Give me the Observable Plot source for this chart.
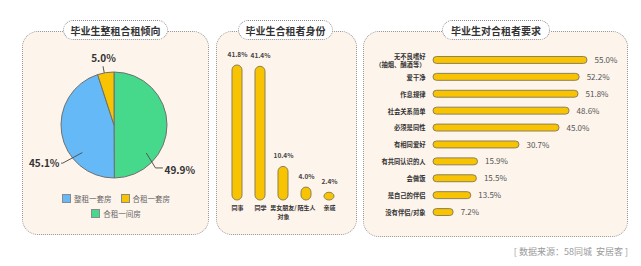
<!DOCTYPE html>
<html>
<head>
<meta charset="utf-8">
<script src="https://cdn.jsdelivr.net/npm/d3@7"></script>
<script src="https://cdn.jsdelivr.net/npm/@observablehq/plot@0.6"></script>
<style>
  html, body { margin: 0; padding: 0; background: #ffffff; }
  body { width: 641px; height: 266px; position: relative; overflow: hidden;
         font-family: "Noto Sans CJK SC", "Noto Sans", sans-serif; }
  .panel { position: absolute; background: #fdf4ec; border: 1px dotted #9a9a9a; border-radius: 16px; box-sizing: border-box; }
  .pill { position: absolute; height: 20px; background: #ffffff; border: 1px dotted #8a8a8a; border-radius: 10px;
          box-sizing: border-box; display: flex; align-items: center; justify-content: center;
          font-size: 10px; font-weight: 700; color: #333; white-space: nowrap; }
  .legend { position: absolute; display: flex; flex-wrap: wrap; justify-content: center; row-gap: 5px; column-gap: 9px; }
  .legend .item { display: flex; align-items: center; font-size: 7.5px; color: #666; height: 10px; }
  .legend .sw { width: 9px; height: 9px; box-sizing: border-box; border: 1px solid #8a8a8a; margin-right: 3px; }
  .source { position: absolute; right: 13px; top: 245px; font-size: 9px; color: #9a9a9a; white-space: pre; }
</style>
</head>
<body>
<script>
// ---------- data ----------
const titles = ["毕业生整租合租倾向", "毕业生合租者身份", "毕业生对合租者要求"];

const pieCategories = ["整租一套房", "合租一套房", "合租一间房"];
const pieValues = [45.1, 5.0, 49.9];
const pieColors = ["#64b9f6", "#f8c300", "#47d98b"];

const identityCategories = ["同事", "同学", "男女朋友/\n对象", "陌生人", "亲戚"];
const identityValues = [41.8, 41.4, 10.4, 4.0, 2.4];

const requirementCategories = ["无不良嗜好\n（抽烟、酗酒等）", "爱干净", "作息规律", "社会关系简单", "必须是同性",
  "有相同爱好", "有共同认识的人", "会做饭", "是自己的伴侣", "没有伴侣/对象"];
const requirementValues = [55.0, 52.2, 51.8, 48.6, 45.0, 30.7, 15.9, 15.5, 13.5, 7.2];

const sourceText = "[ 数据来源：58同城  安居客 ]";

// ---------- layout helpers ----------
const FONT = '"Noto Sans CJK SC", "Noto Sans", sans-serif';
const BAR_FILL = "#f8c300";
const BAR_STROKE = "#8f8058";

function addDiv(cls, style, text) {
  const d = document.createElement("div");
  d.className = cls;
  Object.assign(d.style, style);
  if (text != null) d.textContent = text;
  document.body.appendChild(d);
  return d;
}
function place(node, left, top) {
  node.style.position = "absolute";
  node.style.left = left + "px";
  node.style.top = top + "px";
  node.style.overflow = "visible";
  document.body.appendChild(node);
}

// panels
addDiv("panel", {left: "22px", top: "31px", width: "187px", height: "204px"});
addDiv("panel", {left: "216px", top: "31px", width: "141px", height: "204px"});
addDiv("panel", {left: "363px", top: "31px", width: "265px", height: "206px"});
addDiv("pill", {left: "63px", top: "20px", width: "105px"}, titles[0]);
addDiv("pill", {left: "238px", top: "20px", width: "95px"}, titles[1]);
addDiv("pill", {left: "442px", top: "20px", width: "108px"}, titles[2]);

// ---------- pie ----------
const R = 53;
const pieData = pieCategories.map((c, i) => ({category: c, value: pieValues[i], color: pieColors[i]}));
const pieOrder = [2, 0, 1]; // clockwise from 12 o'clock
const ordered = pieOrder.map(i => pieData[i]);
const arcs = d3.pie().sort(null).value(d => d.value)(ordered);

function polar(deg, r) { const a = deg * Math.PI / 180; return [r * Math.sin(a), -r * Math.cos(a)]; }

// leader lines (relative to pie centre, pixel units)
const leaders = [
  {cat: "合租一间房", pts: [polar(131, 0.8 * R), polar(136, 59), [48, polar(136, 59)[1]]], label: [50, 45], anchor: "start"},
  {cat: "整租一套房", pts: [polar(230, 0.8 * R), polar(234, 64), [-53, polar(234, 64)[1]]], label: [-55, 38], anchor: "end"},
  {cat: "合租一套房", pts: [polar(349, R + 1), polar(349, R + 7)], label: [-11, -67], anchor: "middle"}
];
const leaderPts = leaders.flatMap(l => l.pts.map(p => ({cat: l.cat, x: p[0], y: p[1]})));
const labelRows = leaders.map(l => {
  const d = pieData.find(p => p.category === l.cat);
  return {x: l.label[0], y: l.label[1], text: d.value.toFixed(1) + "%", anchor: l.anchor};
});

const pie = Plot.plot({
  width: 186, height: 190,
  margin: 0,
  x: {domain: [-92, 94], range: [0, 186], axis: null},
  y: {domain: [-85, 105], range: [0, 190], axis: null},
  style: {background: "transparent", fontFamily: FONT, overflow: "visible"},
  marks: [
    (index, scales) => {
      const cx = scales.x(0), cy = scales.y(0);
      const rr = scales.x(R) - cx;
      const arc = d3.arc().innerRadius(0).outerRadius(rr);
      const g = d3.create("svg:g").attr("transform", `translate(${cx},${cy})`);
      g.selectAll("path").data(arcs).join("path")
        .attr("d", arc)
        .attr("fill", d => d.data.color)
        .attr("stroke", "#6f6f6f")
        .attr("stroke-width", 1);
      return g.node();
    },
    Plot.line(leaderPts, {x: "x", y: "y", z: "cat", stroke: "#555", strokeWidth: 1}),
    Plot.text(labelRows.filter(d => d.anchor === "start"), {x: "x", y: "y", text: "text", textAnchor: "start", fontSize: 10, fontWeight: 700, fill: "#333"}),
    Plot.text(labelRows.filter(d => d.anchor === "end"), {x: "x", y: "y", text: "text", textAnchor: "end", fontSize: 10, fontWeight: 700, fill: "#333"}),
    Plot.text(labelRows.filter(d => d.anchor === "middle"), {x: "x", y: "y", text: "text", textAnchor: "middle", fontSize: 10, fontWeight: 700, fill: "#333"})
  ]
});
place(pie, 22, 40);

// legend (HTML)
const legend = addDiv("legend", {left: "60px", top: "193px", width: "112px"});
pieData.forEach(d => {
  const it = document.createElement("div");
  it.className = "item";
  const sw = document.createElement("div");
  sw.className = "sw";
  sw.style.background = d.color;
  it.appendChild(sw);
  it.appendChild(document.createTextNode(d.category));
  legend.appendChild(it);
});

// ---------- identity bars ----------
const identityData = identityCategories.map((c, i) => ({category: c, value: identityValues[i]}));
const bars = Plot.plot({
  width: 141, height: 205,
  marginLeft: 9.5, marginRight: 16.5, marginTop: 8.5, marginBottom: 35,
  x: {domain: identityCategories, paddingInner: 0.565, paddingOuter: 0.2825, round: false, axis: null},
  y: {domain: [0, 50], axis: null},
  style: {background: "transparent", fontFamily: FONT, overflow: "visible"},
  marks: [
    Plot.barY(identityData, {x: "category", y: "value", fill: BAR_FILL, stroke: BAR_STROKE, strokeWidth: 1, rx: 5}),
    Plot.text(identityData, {x: "category", y: "value", text: d => d.value.toFixed(1) + "%", dy: -11, fontSize: 6.5, fontWeight: 700, fill: "#444"}),
    Plot.text(identityData, {x: "category", y: 0, text: "category", dy: 4, lineAnchor: "top", lineHeight: 1.4, fontSize: 6, fontWeight: 600, fill: "#333"})
  ]
});
place(bars, 216, 30);

// ---------- requirement bars ----------
const reqData = requirementCategories.map((c, i) => ({category: c, value: requirementValues[i]}));
const hbars = Plot.plot({
  width: 265, height: 180,
  marginLeft: 70, marginRight: 41, marginTop: 6.5, marginBottom: 4.5,
  x: {domain: [0, 55], axis: null},
  y: {domain: requirementCategories, paddingInner: 0.59, paddingOuter: 0.295, round: false, axis: null},
  style: {background: "transparent", fontFamily: FONT, overflow: "visible"},
  marks: [
    Plot.barX(reqData, {y: "category", x: "value", fill: BAR_FILL, stroke: BAR_STROKE, strokeWidth: 1, rx: 3.5}),
    Plot.text(reqData, {y: "category", x: 0, text: "category", dx: -8, textAnchor: "end", lineHeight: 1.2, fontSize: 6.3, fontWeight: 600, fill: "#333"}),
    Plot.text(reqData, {y: "category", x: "value", text: d => d.value.toFixed(1) + "%", dx: 7, textAnchor: "start", fontSize: 8, fill: "#555"})
  ]
});
place(hbars, 363, 45);

addDiv("source", {}, sourceText);
</script>
</body>
</html>
